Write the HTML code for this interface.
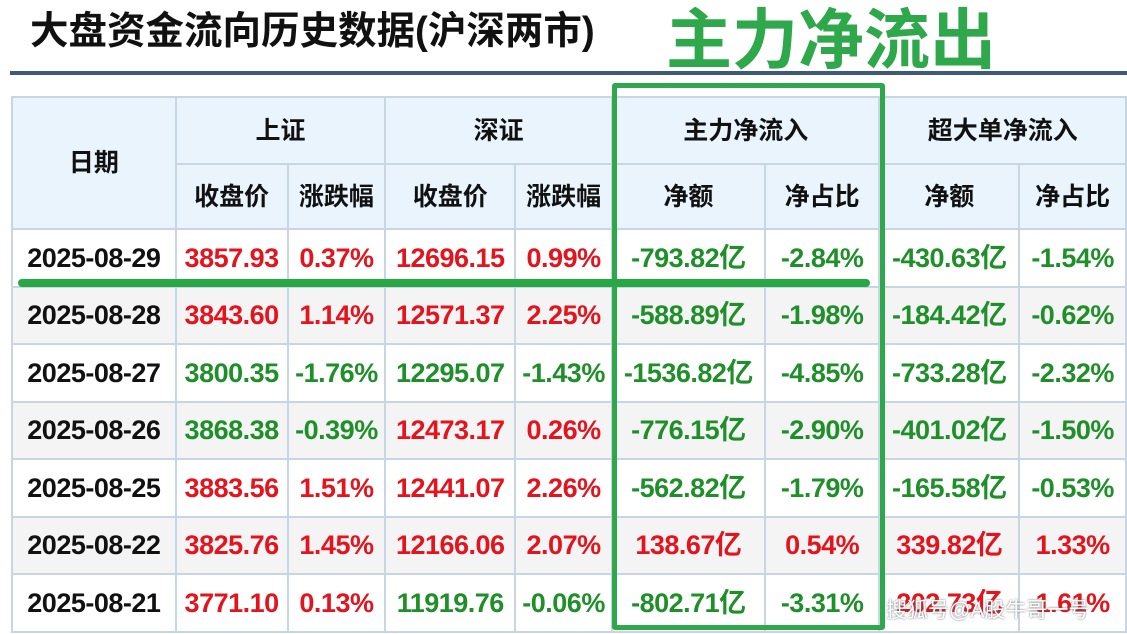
<!DOCTYPE html>
<html><head><meta charset="utf-8"><style>
body{margin:0;width:1127px;height:634px;background:#fff;position:relative;overflow:hidden;font-family:"Liberation Sans","Noto Sans CJK SC",sans-serif;}
.t1{position:absolute;left:30px;top:8px;font-size:38.5px;font-weight:bold;color:#111;line-height:48px;}
.t2{position:absolute;left:666px;top:0px;font-size:66px;font-weight:bold;color:#2ea84a;line-height:80px;letter-spacing:0px;}
.bl{position:absolute;left:10px;top:71px;width:1117px;height:4px;background:#3d5a7a;}
table{position:absolute;left:11px;top:96px;border-collapse:collapse;table-layout:fixed;}
td{border:2px solid #c8d6e3;text-align:center;font-weight:bold;font-size:27px;padding:0;white-space:nowrap;overflow:hidden;line-height:30px;letter-spacing:-0.5px;}
tr.h td{background:#e9f4fd;font-size:25px;color:#111;letter-spacing:0;}
tr.d td{height:55.5px;}
tr.g td{background:#f4f4f4;}
.r{color:#e3141d}.g{color:#1f8f2a}.k{color:#111}
.box{position:absolute;left:612px;top:83px;width:263px;height:537px;border:5px solid #2ea84a;border-radius:3px;}
.gl{position:absolute;left:18px;top:279px;width:852px;height:8px;background:#28a745;border-radius:4px;}
.wm{position:absolute;left:886px;top:594px;font-size:21px;color:#fff;text-shadow:0 0 2px #666;}
</style></head><body>
<div class="t1">大盘资金流向历史数据(沪深两市)</div>
<div class="t2">主力净流出</div>
<div class="bl"></div>
<table>
<colgroup><col style="width:164px"><col style="width:112px"><col style="width:98px"><col style="width:130px"><col style="width:97px"><col style="width:153px"><col style="width:115px"><col style="width:140px"><col style="width:107px"></colgroup>
<tr class="h" style="height:67px"><td rowspan="2">日期</td><td colspan="2">上证</td><td colspan="2">深证</td><td colspan="2">主力净流入</td><td colspan="2">超大单净流入</td></tr>
<tr class="h" style="height:65px"><td>收盘价</td><td>涨跌幅</td><td>收盘价</td><td>涨跌幅</td><td>净额</td><td>净占比</td><td>净额</td><td>净占比</td></tr>
<tr class="d"><td class="k">2025-08-29</td><td class="r">3857.93</td><td class="r">0.37%</td><td class="r">12696.15</td><td class="r">0.99%</td><td class="g">-793.82亿</td><td class="g">-2.84%</td><td class="g">-430.63亿</td><td class="g">-1.54%</td></tr>
<tr class="d g"><td class="k">2025-08-28</td><td class="r">3843.60</td><td class="r">1.14%</td><td class="r">12571.37</td><td class="r">2.25%</td><td class="g">-588.89亿</td><td class="g">-1.98%</td><td class="g">-184.42亿</td><td class="g">-0.62%</td></tr>
<tr class="d"><td class="k">2025-08-27</td><td class="g">3800.35</td><td class="g">-1.76%</td><td class="g">12295.07</td><td class="g">-1.43%</td><td class="g">-1536.82亿</td><td class="g">-4.85%</td><td class="g">-733.28亿</td><td class="g">-2.32%</td></tr>
<tr class="d g"><td class="k">2025-08-26</td><td class="g">3868.38</td><td class="g">-0.39%</td><td class="r">12473.17</td><td class="r">0.26%</td><td class="g">-776.15亿</td><td class="g">-2.90%</td><td class="g">-401.02亿</td><td class="g">-1.50%</td></tr>
<tr class="d"><td class="k">2025-08-25</td><td class="r">3883.56</td><td class="r">1.51%</td><td class="r">12441.07</td><td class="r">2.26%</td><td class="g">-562.82亿</td><td class="g">-1.79%</td><td class="g">-165.58亿</td><td class="g">-0.53%</td></tr>
<tr class="d g"><td class="k">2025-08-22</td><td class="r">3825.76</td><td class="r">1.45%</td><td class="r">12166.06</td><td class="r">2.07%</td><td class="r">138.67亿</td><td class="r">0.54%</td><td class="r">339.82亿</td><td class="r">1.33%</td></tr>
<tr class="d"><td class="k">2025-08-21</td><td class="r">3771.10</td><td class="r">0.13%</td><td class="g">11919.76</td><td class="g">-0.06%</td><td class="g">-802.71亿</td><td class="g">-3.31%</td><td class="r">202.73亿</td><td class="r">1.61%</td></tr>
</table>
<div class="box"></div>
<div class="gl"></div>
<div class="wm">搜狐号@A股牛哥一号</div>
</body></html>
